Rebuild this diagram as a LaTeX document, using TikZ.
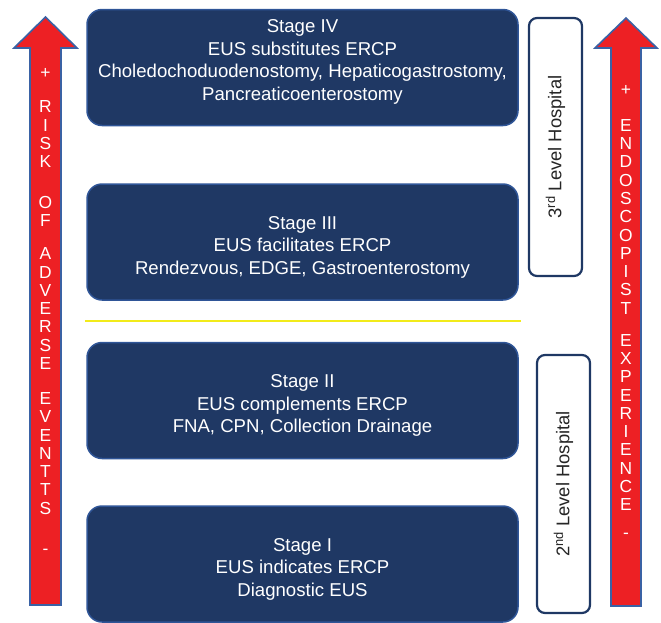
\documentclass[tikz,border=0pt]{standalone}
\usepackage{fontspec}
\setmainfont{Liberation Sans}
\definecolor{stagenavy}{RGB}{31,56,100}
\definecolor{stageedge}{RGB}{47,85,151}
\definecolor{arrowedge}{RGB}{58,98,165}
\definecolor{arrowred}{RGB}{237,32,36}
\definecolor{divider}{RGB}{242,235,26}
\tikzset{
  stagebox/.style={draw=stageedge, line width=1.5pt, fill=stagenavy, rounded corners=15pt,
    minimum width=431pt, minimum height=116pt},
  stagetext/.style={text=white, align=center, font=\fontsize{18.6}{22.5}\selectfont},
  hospbox/.style={draw=stagenavy, line width=2.2pt, fill=white, rounded corners=8pt,
    rotate=90, minimum width=258pt, minimum height=53pt, text=black!85,
    font=\fontsize{18.4}{20}\selectfont},
  bigarrow/.style={draw=arrowedge, line width=1.6pt, fill=arrowred, line join=miter},
  arrowtext/.style={text=white, align=center, font=\fontsize{17.4}{18.3}\selectfont}
}
\begin{document}
\begin{tikzpicture}[x=1pt, y=-1pt]
    \useasboundingbox (0, 0) rectangle (661, 622) ;
    % side arrows
    \draw[bigarrow] (30, 605) -- (30, 48) -- (14, 48) -- (45.5, 17) -- (77, 48) -- (61, 48) -- (61, 605) -- cycle ;
    \draw[bigarrow] (611, 606) -- (611, 48) -- (595, 48) -- (626, 18) -- (657, 48) -- (641, 48) -- (641, 606) -- cycle ;
    \node[arrowtext] (risk) at (45.5, 311.5) {+\\[15.6pt] R\\ I\\ S\\ K\\[22.6pt] O\\ F\\[14.6pt] A\\ D\\ V\\ E\\ R\\ S\\ E\\[16.6pt] E\\ V\\ E\\ N\\ T\\ T\\ S\\[21.6pt] -} ;
    \node[arrowtext] (experience) at (626, 312) {+\\[17.6pt] E\\ N\\ D\\ O\\ S\\ C\\ O\\ P\\ I\\ S\\ T\\[13.6pt] E\\ X\\ P\\ E\\ R\\ I\\ E\\ N\\ C\\ E\\[9.6pt] -} ;
    % stages
    \node[stagebox] (stage4) at (302.5, 67.5) {} ;
    \node[stagebox] (stage3) at (302.5, 242) {} ;
    \node[stagebox] (stage2) at (302.5, 400.5) {} ;
    \node[stagebox] (stage1) at (302.5, 564) {} ;
    \node[stagetext, yshift=5.5pt] (stage4text) at (stage4) {Stage IV\\ EUS substitutes ERCP\\ Choledochoduodenostomy, Hepaticogastrostomy,\\ Pancreaticoenterostomy} ;
    \node[stagetext, yshift=-5pt] (stage3text) at (stage3) {Stage III\\ EUS facilitates ERCP\\ Rendezvous, EDGE, Gastroenterostomy} ;
    \node[stagetext, yshift=-5pt] (stage2text) at (stage2) {Stage II\\ EUS complements ERCP\\ FNA, CPN, Collection Drainage} ;
    \node[stagetext, yshift=-5pt] (stage1text) at (stage1) {Stage I\\ EUS indicates ERCP\\ Diagnostic EUS} ;
    \draw[divider, line width=2.5pt] (85, 321) -- (521, 321) ;
    % hospital levels
    \node[hospbox] (level3) at (555.5, 147) {3\textsuperscript{rd} Level Hospital} ;
    \node[hospbox] (level2) at (563.5, 484) {2\textsuperscript{nd} Level Hospital} ;
  \end{tikzpicture}
\end{document}
